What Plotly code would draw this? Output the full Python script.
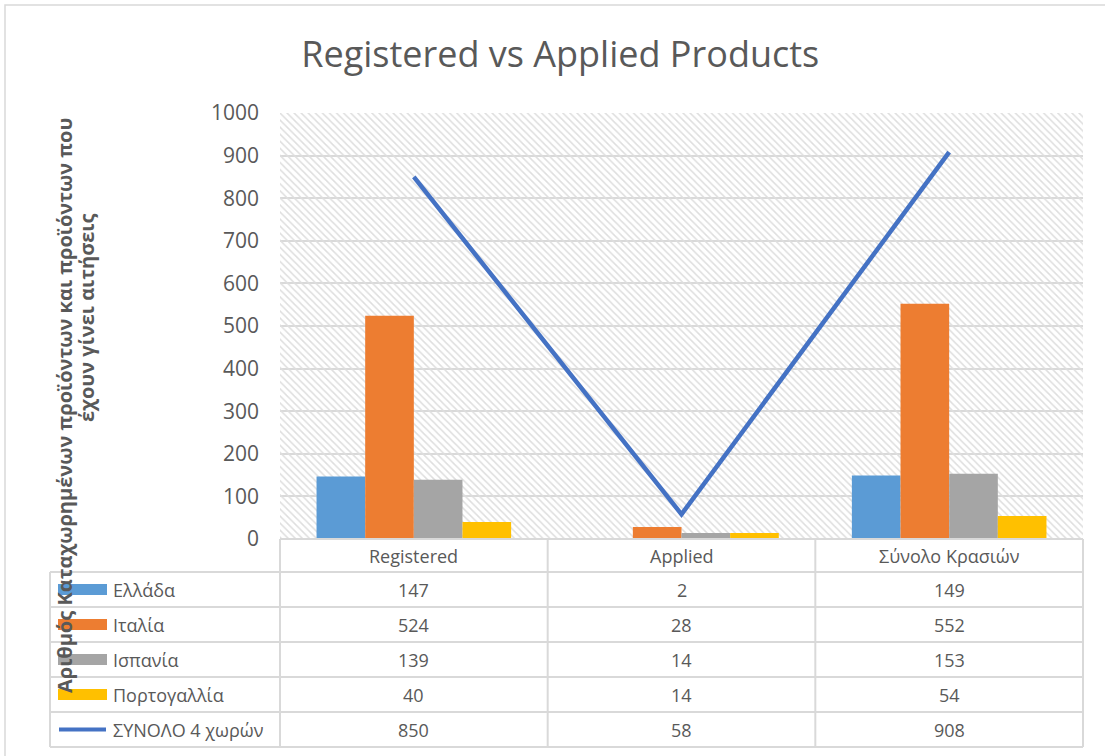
import plotly.graph_objects as go

# ---------------- data ----------------
categories = ["Registered", "Applied", "Σύνολο Κρασιών"]
series_names = ["Ελλάδα", "Ιταλία", "Ισπανία", "Πορτογαλλία"]
greece = [147, 2, 149]
italy = [524, 28, 552]
spain = [139, 14, 153]
portugal = [40, 14, 54]
total_name = "ΣΥΝΟΛΟ 4 χωρών"
total = [850, 58, 908]
y_ticks = [0, 100, 200, 300, 400, 500, 600, 700, 800, 900, 1000]

bar_series = [greece, italy, spain, portugal]
bar_colors = ["#5B9BD5", "#ED7D31", "#A5A5A5", "#FFC000"]
line_color = "#4472C4"

TEXT = "#595959"
GRID = "#D9D9D9"
FONT = "Open Sans"

W, H = 1105, 756
L, R, T, B = 280, 22, 113, 217
PW, PH = W - L - R, H - T - B


def px2x(px):
    return (px - L) / PW


def px2y(py):
    return (H - B - py) / PH


fig = go.Figure()

# hatched plot background (decoration)
fig.add_trace(go.Bar(
    x=[categories[1]], y=[y_ticks[-1]], width=3, offset=-1.5,
    marker=dict(color="rgba(0,0,0,0)", line=dict(width=0),
                pattern=dict(shape="\\", fgcolor="#DEDEDE", bgcolor="rgba(0,0,0,0)",
                             size=5, solidity=0.3, fillmode="replace")),
    hoverinfo="skip", showlegend=False,
))

for name, vals, col in zip(series_names, bar_series, bar_colors):
    fig.add_trace(go.Bar(x=categories, y=vals, name=name,
                         marker=dict(color=col, line=dict(width=0)),
                         showlegend=False))

fig.add_trace(go.Scatter(x=categories, y=total, name=total_name, mode="lines",
                         line=dict(color=line_color, width=4.5), showlegend=False))

shapes = []
annotations = []

# outer chart border
shapes.append(dict(type="rect", xref="paper", yref="paper",
                   x0=px2x(5), x1=px2x(1112), y0=px2y(763), y1=px2y(5),
                   line=dict(color=GRID, width=1.5), layer="below"))

# data table grid
row_lines = [539, 572, 607, 642, 677, 712, 747]
for i, ry in enumerate(row_lines):
    x0 = px2x(280) if i == 0 else px2x(50)
    shapes.append(dict(type="line", xref="paper", yref="paper",
                       x0=x0, x1=1, y0=px2y(ry), y1=px2y(ry),
                       line=dict(color=GRID, width=2)))
for k in range(len(categories) + 1):
    shapes.append(dict(type="line", xref="paper", yref="paper",
                       x0=k / len(categories), x1=k / len(categories),
                       y0=px2y(539), y1=px2y(747),
                       line=dict(color=GRID, width=2)))
shapes.append(dict(type="line", xref="paper", yref="paper",
                   x0=px2x(50), x1=px2x(50), y0=px2y(572), y1=px2y(747),
                   line=dict(color=GRID, width=2)))

row_centers = [(row_lines[i] + row_lines[i + 1]) / 2 for i in range(len(row_lines) - 1)]

TS = 18
# header row: category names
for j, cat in enumerate(categories):
    annotations.append(dict(xref="paper", yref="paper", x=(j + 0.5) / len(categories),
                            y=px2y(row_centers[0]), text=cat, showarrow=False,
                            font=dict(family=FONT, size=TS, color=TEXT),
                            xanchor="center", yanchor="middle"))

all_names = series_names + [total_name]
all_vals = bar_series + [total]
for i, (name, vals) in enumerate(zip(all_names, all_vals)):
    cy = row_centers[i + 1]
    if i < len(bar_series):
        shapes.append(dict(type="rect", xref="paper", yref="paper",
                           x0=px2x(58), x1=px2x(107), y0=px2y(cy + 5.5), y1=px2y(cy - 5.5),
                           fillcolor=bar_colors[i], line=dict(width=0)))
    else:
        shapes.append(dict(type="line", xref="paper", yref="paper",
                           x0=px2x(59), x1=px2x(106), y0=px2y(cy), y1=px2y(cy),
                           line=dict(color=line_color, width=4)))
    annotations.append(dict(xref="paper", yref="paper", x=px2x(111), y=px2y(cy),
                            text=name, showarrow=False, xanchor="left", yanchor="middle",
                            font=dict(family=FONT, size=TS, color=TEXT)))
    for j, v in enumerate(vals):
        annotations.append(dict(xref="paper", yref="paper", x=(j + 0.5) / len(categories),
                                y=px2y(cy), text=str(v), showarrow=False,
                                xanchor="center", yanchor="middle",
                                font=dict(family=FONT, size=TS, color=TEXT)))

# y axis title (two lines, as in the reference)
annotations.append(dict(xref="paper", yref="paper", x=px2x(64), y=px2y(405),
                        text="<b>Αριθμός Καταχωρημένων προϊόντων και προϊόντων που</b>",
                        textangle=-90, showarrow=False, xanchor="center", yanchor="middle",
                        font=dict(family=FONT, size=20, color=TEXT)))
annotations.append(dict(xref="paper", yref="paper", x=px2x(86), y=px2y(318),
                        text="<b>έχουν γίνει αιτήσεις</b>",
                        textangle=-90, showarrow=False, xanchor="center", yanchor="middle",
                        font=dict(family=FONT, size=20, color=TEXT)))

fig.update_layout(
    width=W, height=H,
    margin=dict(l=L, r=R, t=T, b=B),
    paper_bgcolor="white", plot_bgcolor="white",
    barmode="group", bargap=0.273, bargroupgap=0,
    title=dict(text="Registered vs Applied Products", x=0.507, xanchor="center",
               y=1 - 54 / H, yanchor="middle", yref="container",
               font=dict(family=FONT, size=36, color=TEXT)),
    xaxis=dict(type="category", categoryorder="array", categoryarray=categories,
               range=[-0.5, len(categories) - 0.5], showticklabels=False,
               showgrid=False, showline=False, zeroline=False, ticks=""),
    yaxis=dict(range=[y_ticks[0], y_ticks[-1]], tickvals=y_ticks,
               showgrid=True, gridcolor=GRID, gridwidth=1.5, zeroline=False,
               showline=False, ticks="", ticklabelstandoff=20,
               tickfont=dict(family=FONT, size=21, color=TEXT)),
    shapes=shapes, annotations=annotations,
    showlegend=False,
)

fig.write_html("out.html", config={"displayModeBar": False},
               post_script="document.body.style.margin='0';document.body.style.overflow='hidden';")
